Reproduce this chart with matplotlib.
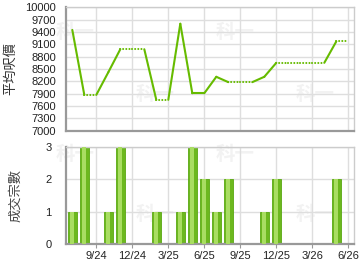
import matplotlib
matplotlib.use('Agg')
import matplotlib.pyplot as plt

# monthly data, 7/24 .. 6/26
months = ['7/24', '8/24', '9/24', '10/24', '11/24', '12/24', '1/25', '2/25',
          '3/25', '4/25', '5/25', '6/25', '7/25', '8/25', '9/25', '10/25',
          '11/25', '12/25', '1/26', '2/26', '3/26', '4/26', '5/26', '6/26']
prices = [9450, 7870, 7870, 8420, 8980, 8980, 8980, 7750, 7750, 9600, 7910, 7910,
          8310, 8180, 8180, 8180, 8310, 8650, 8650, 8650, 8650, 8650, 9170, 9170]
counts = [1, 3, 0, 1, 3, 0, 0, 1, 0, 1, 3, 2, 1, 2, 0, 0, 1, 2, 0, 0, 0, 0, 2, 0]

tick_labels = ['9/24', '12/24', '3/25', '6/25', '9/25', '12/25', '3/26', '6/26']
price_ticks = list(range(7000, 10001, 300))
count_ticks = [0, 1, 2, 3]

green = '#66bb00'
grid_c = '#dedede'
cjk = ['Noto Sans CJK TC', 'DejaVu Sans']
plt.rcParams['font.family'] = ['Liberation Sans', 'DejaVu Sans']

fig = plt.figure(figsize=(3.6, 2.7), dpi=100)
ax1 = fig.add_axes([0.1825, 0.516, 0.8, 0.457])
ax2 = fig.add_axes([0.1825, 0.0963, 0.8, 0.359])

x = list(range(len(months)))
tick_pos = [x[months.index(t)] for t in tick_labels]

for ax in (ax1, ax2):
    ax.patch.set_alpha(0)
    ax.set_xlim(-0.55, 23.45)
    ax.set_xticks(tick_pos)
    ax.grid(True, color=grid_c, linewidth=1)
    ax.set_axisbelow(True)
    for s in ('top', 'right'):
        ax.spines[s].set_color('#cccccc')
        ax.spines[s].set_linewidth(1)
    for s in ('left', 'bottom'):
        ax.spines[s].set_color('#999999')
        ax.spines[s].set_linewidth(1.6)

# faint watermarks behind the axes (pixel positions in the 360x270 figure)
for wx, wy in [(75, 33), (235, 33), (155, 95), (315, 95),
               (75, 155), (235, 155), (155, 215), (315, 215)]:
    fig.text(wx / 360, 1 - wy / 270, '科一', fontsize=14, fontweight='bold',
             color='#f2f2f2', ha='center', va='center', family=cjk, zorder=-1)

# price line: segment solid when the month it ends at has transactions
for i in range(1, len(x)):
    style = '-' if counts[i] > 0 else (0, (0.01, 1.5))
    ax1.plot(x[i - 1:i + 1], prices[i - 1:i + 1], color=green, linewidth=1.5,
             linestyle=style, dash_capstyle='round', solid_capstyle='round', zorder=3)

ax1.set_ylim(7000, 10000)
ax1.set_yticks(price_ticks)
ax1.set_yticklabels([str(v) for v in price_ticks], fontsize=8, color='#222222')
ax1.tick_params(axis='y', length=0, pad=7)
ax1.tick_params(axis='x', length=0, labelbottom=False)
ax1.set_ylabel('平均呎價', family=cjk, fontsize=9.5, color='#333333', labelpad=6)

# transaction bars
ax2.bar(x, counts, width=0.72, color='#6cb81e', edgecolor='#5aa812', linewidth=0.6, zorder=2)
ax2.bar(x, counts, width=0.34, color='#a9dd62', linewidth=0, zorder=3)
ax2.set_ylim(0, 3)
ax2.set_yticks(count_ticks)
ax2.set_yticklabels([str(v) for v in count_ticks], fontsize=8, color='#222222')
ax2.tick_params(axis='y', length=0, pad=10)
ax2.set_xticklabels(tick_labels, fontsize=8, color='#222222')
ax2.tick_params(axis='x', length=3, color='#999999', pad=2)
ax2.set_ylabel('成交宗數', family=cjk, fontsize=9.5, color='#444444', labelpad=17)

fig.savefig('out.png', dpi=100)
